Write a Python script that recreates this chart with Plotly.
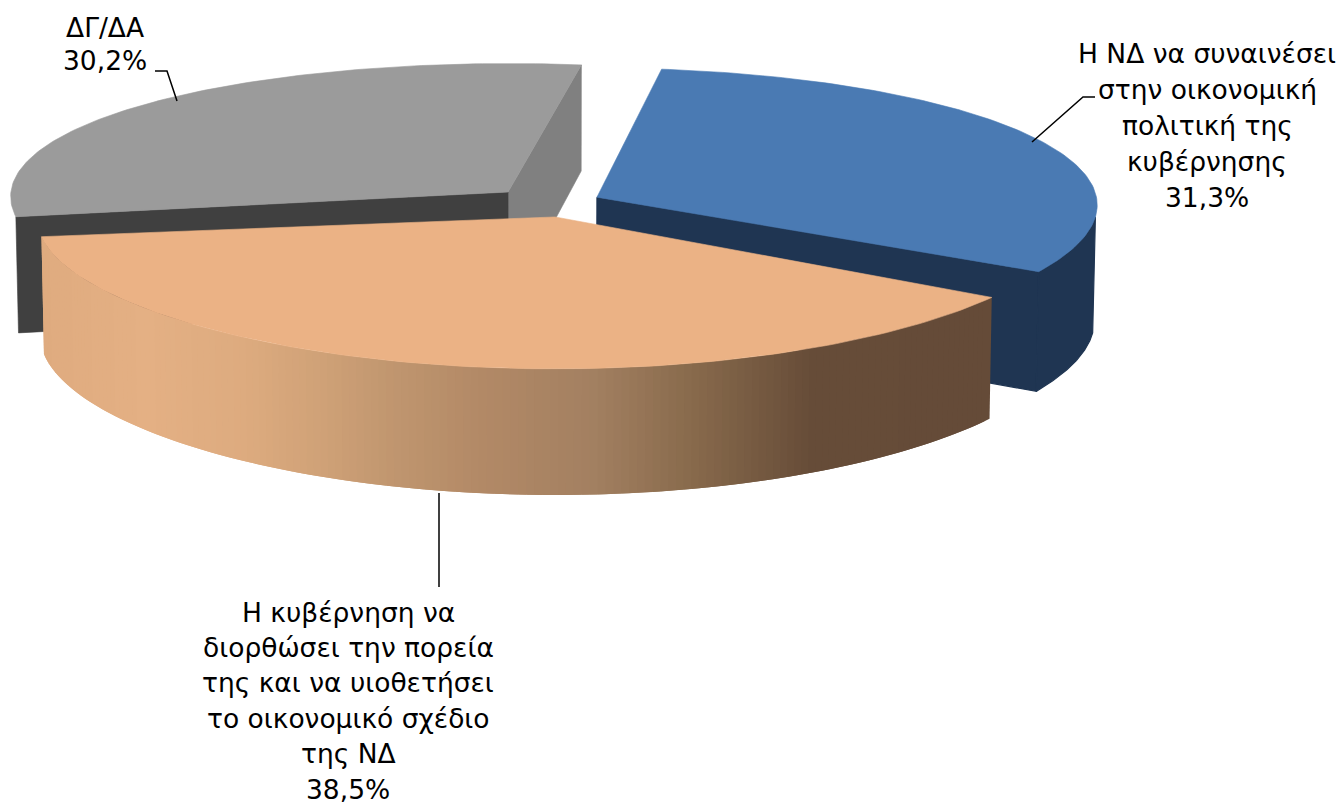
import math
import plotly.graph_objects as go

# ---- data ----
categories = ["Η ΝΔ να συναινέσει στην οικονομική πολιτική της κυβέρνησης",
              "Η κυβέρνηση να διορθώσει την πορεία της και να υιοθετήσει το οικονομικό σχέδιο της ΝΔ",
              "ΔΓ/ΔΑ"]
values = [31.3, 38.5, 30.2]
label_lines = [
    ["Η ΝΔ να συναινέσει", "στην οικονομική", "πολιτική της", "κυβέρνησης"],
    ["Η κυβέρνηση να", "διορθώσει την πορεία", "της και να υιοθετήσει", "το οικονομικό σχέδιο", "της ΝΔ"],
    ["ΔΓ/ΔΑ"],
]
top_colors = ["#4A7AB3", "#EBB285", "#9B9B9B"]
wall_colors = ["#1F3552", None, "#404040"]
inner_color = "#808080"

# ---- projection settings ----
CX, CY, A, B, KY, DEPTH = 546, 200, 500, 140, 0.08, 115
KX = [0.05, 0.02, 0.03]
pull = [(0.102, -0.02), (0.018, 0.12), (-0.076, -0.057)]
radius_x = [1.0, 1.032, 0.996]
radius_y = [1.0, 0.98, 1.0]
tweak = [0.6, 3.2, 1.1]
START = -82.5


def project(i, X, Y, low=False):
    x = A * X / (1 - KX[i] * Y)
    y = B * Y / (1 - KY * Y)
    if low:
        x *= 0.995
        y += DEPTH / (1 - KY * Y)
    return CX + x, CY + y


def rim(i, t_deg, low=False):
    t = math.radians(t_deg)
    return project(i, pull[i][0] + radius_x[i] * math.cos(t), pull[i][1] + radius_y[i] * math.sin(t), low)


def apex(i, low=False):
    return project(i, pull[i][0], pull[i][1], low)


def poly(fig, pts, color, edge=0.6):
    xs = [p[0] for p in pts] + [pts[0][0]]
    ys = [p[1] for p in pts] + [pts[0][1]]
    fig.add_trace(go.Scatter(x=xs, y=ys, mode="lines", fill="toself", fillcolor=color,
                             line=dict(color=color, width=edge), hoverinfo="skip", showlegend=False))


def arc(i, a, b, n=120, low=False):
    return [rim(i, a + (b - a) * k / n, low) for k in range(n + 1)]


def lerp_hex(stops, x):
    for (x0, c0), (x1, c1) in zip(stops, stops[1:]):
        if x <= x1:
            f = max(0, (x - x0) / (x1 - x0))
            return "#%02X%02X%02X" % tuple(round(int(c0[j:j + 2], 16) * (1 - f) + int(c1[j:j + 2], 16) * f)
                                           for j in (1, 3, 5))
    return stops[-1][1]


gradient = [(40, "#DFAB7F"), (150, "#E4B084"), (250, "#DDAB7F"), (330, "#CFA177"), (400, "#C0966F"),
            (490, "#B28966"), (600, "#A38061"), (700, "#886A4C"), (820, "#664C38"), (990, "#654B38")]

# angular extents from the values
spans = [v / sum(values) * 360 for v in values]
starts = []
acc = START
for i, s in enumerate(spans):
    starts.append(acc + tweak[i])
    acc += s
ends = [s + d for s, d in zip(starts, spans)]

fig = go.Figure()

# gray slice: inner faces, then top
g = 2
poly(fig, [apex(g), rim(g, ends[g]), rim(g, ends[g], True), apex(g, True)], inner_color)
poly(fig, [apex(g), rim(g, starts[g]), rim(g, starts[g], True), apex(g, True)], wall_colors[g])
poly(fig, [apex(g)] + arc(g, starts[g], ends[g]), top_colors[g])

# blue slice: cut face, outer wall, top
b = 0
poly(fig, [apex(b), rim(b, ends[b]), rim(b, ends[b], True), apex(b, True)], wall_colors[b], edge=1.2)
poly(fig, arc(b, 8, ends[b]) + arc(b, 8, ends[b], low=True)[::-1], wall_colors[b], edge=1.2)
poly(fig, [apex(b)] + arc(b, starts[b], ends[b]), top_colors[b])

# orange slice: gradient wall (strips overlap so no seams show), top
o = 1
N = 160
for k in range(N - 1, -1, -1):
    t0 = starts[o] + spans[o] * k / N
    t1 = starts[o] + spans[o] * (k + 1) / N
    t2 = min(ends[o], t1 + spans[o] / N)
    mid = rim(o, (t0 + t1) / 2)
    pts = arc(o, t0, t2, n=3) + arc(o, t0, t2, n=3, low=True)[::-1]
    poly(fig, pts, lerp_hex(gradient, mid[0]), edge=0)
poly(fig, [apex(o)] + arc(o, starts[o], ends[o]), top_colors[o])

# leader lines
leaders = [([155, 167, 177], [71, 71, 101]),
           ([1095, 1083, 1032], [97, 97, 142]),
           ([439, 439], [493, 587])]
for lx, ly in leaders:
    fig.add_trace(go.Scatter(x=lx, y=ly, mode="lines", line=dict(color="black", width=1.5),
                             hoverinfo="skip", showlegend=False))

# labels
FONT = dict(family="DejaVu Sans", size=26.5, color="black")
anchors = [(1207, 53, 36), (348, 612, 35.4), (105, 27, 33)]
for i, lines in enumerate(label_lines):
    x0, y0, dy = anchors[i]
    pct = f"{values[i]:.1f}%".replace(".", ",")
    for n, line in enumerate(lines + [pct]):
        fig.add_annotation(x=x0, y=y0 + n * dy, text=line, showarrow=False, font=FONT,
                           xanchor="center", yanchor="middle")

fig.update_layout(width=1343, height=806, margin=dict(l=0, r=0, t=0, b=0),
                  paper_bgcolor="white", plot_bgcolor="white", showlegend=False,
                  xaxis=dict(range=[0, 1343], visible=False, fixedrange=True),
                  yaxis=dict(range=[806, 0], visible=False, fixedrange=True))
fig.write_html("out.html", config=dict(displayModeBar=False),
               post_script="document.body.style.margin='0';")
